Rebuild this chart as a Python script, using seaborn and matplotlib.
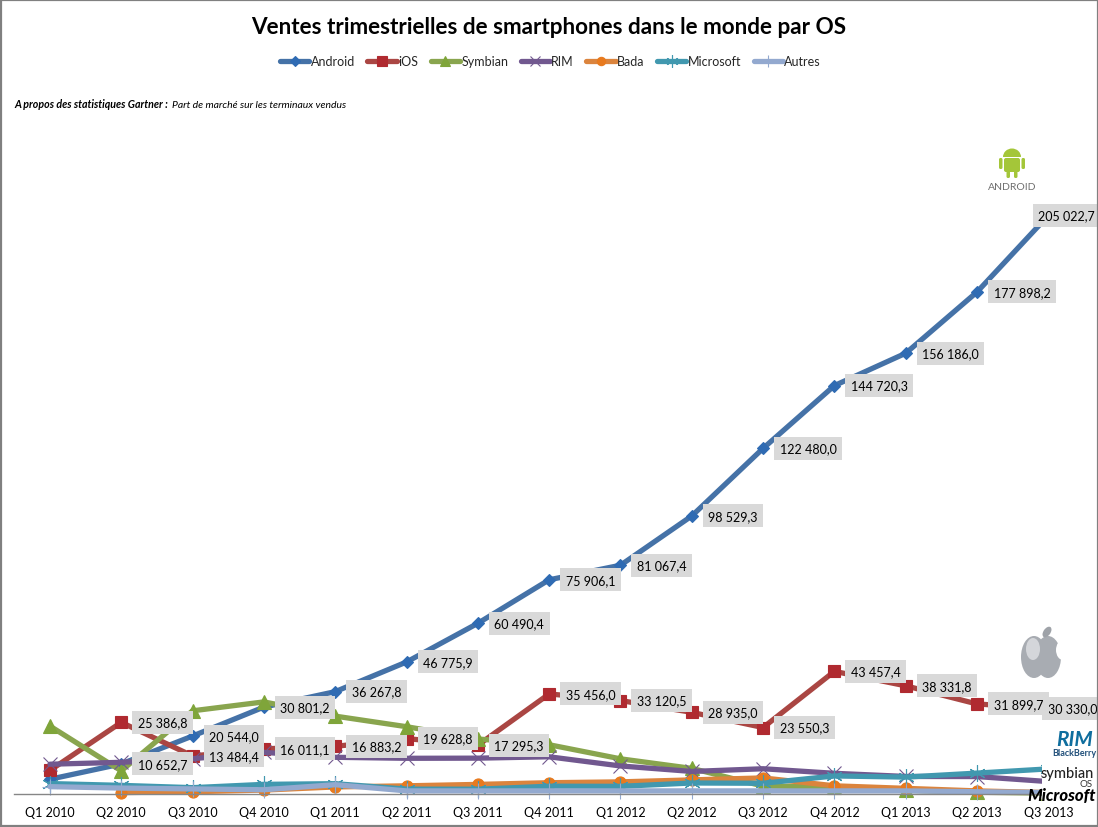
#!/usr/bin/env python3
# -*- coding: utf-8 -*-

import numpy as np
import seaborn as sns
import matplotlib.pyplot as plt
from matplotlib.patches import Ellipse, FancyBboxPatch, Rectangle

quarters = ['Q1 2010', 'Q2 2010', 'Q3 2010', 'Q4 2010', 'Q1 2011', 'Q2 2011', 'Q3 2011', 'Q4 2011',
            'Q1 2012', 'Q2 2012', 'Q3 2012', 'Q4 2012', 'Q1 2013', 'Q2 2013', 'Q3 2013']

android = [5227, 10652.7, 20544.0, 30801.2, 36267.8, 46775.9, 60490.4, 75906.1,
           81067.4, 98529.3, 122480.0, 144720.3, 156186.0, 177898.2, 205022.7]
ios = [8360, 25386.8, 13484.4, 16011.1, 16883.2, 19628.8, 17295.3, 35456.0,
       33120.5, 28935.0, 23550.3, 43457.4, 38331.8, 31899.7, 30330.0]
symbian = [24068, 8200, 29480, 32642, 27599, 23853, 19500, 17458,
           12466, 9072, 2800, 2569, 1349, 630, 300]
rim = [10553, 11229, 12508, 14762, 13004, 12652, 12701, 13185,
       9939, 7991, 8947, 7333, 6219, 6180, 4401]
bada = [np.nan, 500, 800, 1400, 2500, 2900, 3400, 4000,
        4300, 5000, 5700, 2900, 2000, 1100, 500]
microsoft = [3696, 3059, 2247, 3419, 3658, 1725, 1702, 2759,
             2713, 3900, 3800, 6400, 5989, 7407, 8900]
autres = [2600, 2100, 1800, 1500, 3300, 1100, 1100, 1100,
          1100, 1100, 1100, 1100, 1100, 800, 500]

names = ['Android', 'iOS', 'Symbian', 'RIM', 'Bada', 'Microsoft', 'Autres']
colors = ['#4572A7', '#AA4643', '#89A54E', '#71588F', '#DB843D', '#4198AF', '#93A9CF']
mark_colors = ['#2F6BB3', '#B02A30', '#7FA53A', '#71588F', '#E87A1E', '#4198AF', '#93A9CF']
markers = ['D', 's', '^', 'x', 'o', (6, 2, 0), '+']
sizes = [6.5, 9, 10, 10, 8, 12, 12]

W, H = 1098, 828
BASE = 795
SCALE = 0.002822  # pixels per unit, measured on the reference
YMAX = 210000

sns.set_theme(style='white')
plt.rcParams['font.family'] = ['Lato', 'DejaVu Sans']

fig = plt.figure(figsize=(W / 100, H / 100), dpi=100, facecolor='white')
top = BASE - YMAX * SCALE
ax = fig.add_axes([14.3 / W, 1 - BASE / H, (1084 - 14.3) / W, (BASE - top) / H])

series = [android, ios, symbian, rim, bada, microsoft, autres]
for vals, name, col, mcol, mark, size in zip(series, names, colors, mark_colors, markers, sizes):
    sns.lineplot(x=quarters, y=vals, ax=ax, color=col, marker=mark, markersize=size,
                 markerfacecolor=mcol, markeredgecolor=mcol, markeredgewidth=0.8,
                 linewidth=3.8, sort=False, errorbar=None, legend=False, label=name,
                 clip_on=False)

ax.set_xlim(-0.5, 14.5)
ax.set_ylim(0, YMAX)
ax.set_xlabel('')
ax.set_ylabel('')
ax.set_yticks([])
ax.tick_params(axis='x', length=0, pad=9, labelsize=9, colors='black')
for side in ['left', 'top', 'right']:
    ax.spines[side].set_visible(False)
ax.spines['bottom'].set_color('#868686')
ax.spines['bottom'].set_linewidth(1)
ax.patch.set_alpha(0)


def data_label(i, value, dx=16.5, dy=0):
    text = f'{value:,.1f}'.replace(',', ' ').replace('.', ',')
    ax.annotate(text, (i, value), xytext=(dx, dy), textcoords='offset pixels',
                ha='left', va='center', fontsize=9, color='black', zorder=10,
                annotation_clip=False,
                bbox=dict(boxstyle='square,pad=0.44', fc='#D9D9D9', ec='none'))


# data labels, the two last points have their box moved by hand
data_label(14, ios[14], dx=-0.5)
data_label(14, android[14], dx=-10)
for i in range(1, 14):
    data_label(i, android[i])
for i in range(1, 14):
    data_label(i, ios[i])

# overlay in image pixels for title, logos and frame
over = fig.add_axes([0, 0, 1, 1], zorder=5)
over.set_xlim(0, W)
over.set_ylim(H, 0)
over.axis('off')
over.patch.set_alpha(0)

over.text(549, 28, 'Ventes trimestrielles de smartphones dans le monde par OS',
          ha='center', va='center', fontsize=16.2, fontweight='bold', color='black')
over.text(14, 105, 'A propos des statistiques Gartner :', ha='left', va='center',
          fontsize=7.7, fontweight='bold', fontstyle='italic', color='black')
over.text(172, 105, 'Part de marché sur les terminaux vendus', ha='left', va='center',
          fontsize=7.5, fontstyle='italic', color='black')

handles, labels = ax.get_legend_handles_labels()
fig.legend(handles, labels, loc='center', bbox_to_anchor=(550.5 / W, 1 - 62.5 / H), ncol=7,
           frameon=False, fontsize=9, handlelength=2.35, handletextpad=0.1,
           columnspacing=1.0, borderpad=0, markerscale=0.75)

# android logo
green = '#A4C639'
over.add_patch(Ellipse((1012, 158), 18, 17, fc=green, ec='none'))
over.add_patch(Rectangle((1000, 158), 24, 14, fc='white', ec='none'))
over.add_patch(FancyBboxPatch((1004, 159), 16, 14, boxstyle='round,pad=0,rounding_size=2', fc=green, ec='none'))
over.add_patch(FancyBboxPatch((999, 159), 3.5, 11, boxstyle='round,pad=0,rounding_size=1.5', fc=green, ec='none'))
over.add_patch(FancyBboxPatch((1021.5, 159), 3.5, 11, boxstyle='round,pad=0,rounding_size=1.5', fc=green, ec='none'))
over.add_patch(FancyBboxPatch((1006.5, 172), 3.5, 7, boxstyle='round,pad=0,rounding_size=1.5', fc=green, ec='none'))
over.add_patch(FancyBboxPatch((1014, 172), 3.5, 7, boxstyle='round,pad=0,rounding_size=1.5', fc=green, ec='none'))
over.text(1012, 188, 'ANDROID', ha='center', va='center', fontsize=7.5, color='#6E6E6E')

# apple logo
over.add_patch(Ellipse((1034, 658), 26, 42, fc='#A8ACB2', ec='none'))
over.add_patch(Ellipse((1048, 658), 26, 42, fc='#A8ACB2', ec='none'))
over.add_patch(Ellipse((1063, 651), 14, 20, fc='white', ec='none'))
over.add_patch(Ellipse((1041, 680), 6, 5, fc='white', ec='none'))
over.add_patch(Ellipse((1047, 633), 7, 12, angle=35, fc='#9EA2A8', ec='none'))
over.add_patch(Ellipse((1033, 650), 14, 22, fc='#D4D6DA', ec='none'))

# white plate behind the small logos hides the end of the lines
over.add_patch(Rectangle((1042, 728), 54, 78, fc='white', ec='none'))
over.text(1075, 740, 'RIM', ha='center', va='center', fontsize=15, color='#0F6E9E',
          fontweight='bold', fontstyle='italic')
over.text(1074, 754, 'BlackBerry', ha='center', va='center', fontsize=6.5, color='#1F4E79',
          fontweight='bold')
over.text(1067, 774, 'symbian', ha='center', va='center', fontsize=10.5, color='#222222',
          fontweight='medium')
over.text(1086, 785, 'OS', ha='center', va='center', fontsize=7, color='#333333')
over.text(1062, 796, 'Microsoft', ha='center', va='center', fontsize=12, color='black',
          fontweight='black', fontstyle='italic')

# grey frame of the image
over.add_patch(Rectangle((0.5, 0.5), W - 1, H - 1, fc='none', ec='#808080', lw=1.6, clip_on=False))

fig.savefig('out.png', dpi=100)
